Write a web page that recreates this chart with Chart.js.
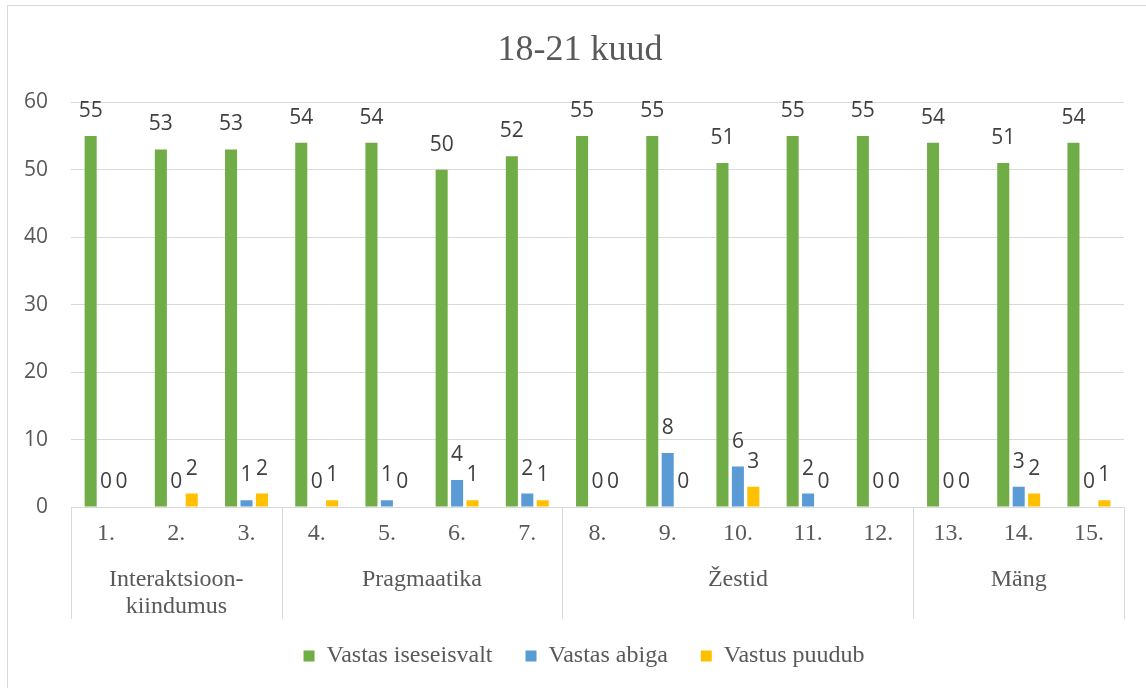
<!DOCTYPE html>
<html>
<head>
<meta charset="utf-8">
<script src="https://cdn.jsdelivr.net/npm/chart.js@4.4.1/dist/chart.umd.min.js"></script>
<style>
  html, body { margin: 0; padding: 0; background: #ffffff; }
  #c { display: block; }
</style>
</head>
<body>
<canvas id="c" width="1146" height="688"></canvas>
<script>
// ---- data ----
const categories = ["1.", "2.", "3.", "4.", "5.", "6.", "7.", "8.", "9.", "10.", "11.", "12.", "13.", "14.", "15."];
const seriesNames = ["Vastas iseseisvalt", "Vastas abiga", "Vastus puudub"];
const vastasIseseisvalt = [55, 53, 53, 54, 54, 50, 52, 55, 55, 51, 55, 55, 54, 51, 54];
const vastasAbiga       = [0, 0, 1, 0, 1, 4, 2, 0, 8, 6, 2, 0, 0, 3, 0];
const vastusPuudub      = [0, 2, 2, 1, 0, 1, 1, 0, 0, 3, 0, 0, 0, 2, 1];
const groupLabels = [["Interaktsioon-", "kiindumus"], ["Pragmaatika"], ["Žestid"], ["Mäng"]];
const groupSizes = [3, 4, 5, 3];
const yTicks = [0, 10, 20, 30, 40, 50, 60];
const titleText = "18-21 kuud";

const colors = ["#70AD47", "#5B9BD5", "#FFC000"];
const GRID = "#D9D9D9";
const TEXT = "#595959";
const SERIF = "'Liberation Serif', 'Times New Roman', serif";
const SANS = "'Open Sans', 'Noto Sans', sans-serif";

const frame = {
  id: 'frame',
  beforeDraw(chart) {
    const ctx = chart.ctx;
    ctx.save();
    ctx.strokeStyle = GRID;
    ctx.lineWidth = 1;
    ctx.strokeRect(7.5, 5.5, 1170, 720);
    ctx.restore();
  }
};

// shift title / legend so they centre on the full (uncropped) chart frame
const boxShift = {
  id: 'boxShift',
  afterLayout(chart) {
    if (chart.titleBlock) { chart.titleBlock.left += 10; chart.titleBlock.right += 10; chart.titleBlock.top += 2; chart.titleBlock.bottom += 2; }
    if (chart.legend) { chart.legend.left += 14; chart.legend.right += 14; chart.legend.top -= 2; chart.legend.bottom -= 2; }
  }
};

const dataLabels = {
  id: 'dataLabels',
  afterDatasetsDraw(chart) {
    const ctx = chart.ctx;
    ctx.save();
    ctx.font = "21px " + SANS;
    ctx.fillStyle = "#404040";
    ctx.textAlign = "center";
    ctx.textBaseline = "alphabetic";
    chart.data.datasets.forEach((ds, di) => {
      const meta = chart.getDatasetMeta(di);
      meta.data.forEach((el, i) => {
        ctx.fillText(String(ds.data[i]), el.x, el.y - 19);
      });
    });
    ctx.restore();
  }
};

const groupAxis = {
  id: 'groupAxis',
  afterDraw(chart) {
    const x = chart.scales.x;
    const ctx = chart.ctx;
    const catW = (x.right - x.left) / categories.length;
    const top = x.top;
    const bottom = 619;
    ctx.save();
    ctx.strokeStyle = GRID;
    ctx.lineWidth = 1;
    let idx = 0;
    const bounds = [x.getPixelForValue(0) - catW / 2];
    groupSizes.forEach(n => { idx += n; bounds.push(x.getPixelForValue(idx - 1) + catW / 2); });
    bounds.forEach(bx => {
      const px = Math.round(bx) + 0.5;
      ctx.beginPath();
      ctx.moveTo(px, top);
      ctx.lineTo(px, bottom);
      ctx.stroke();
    });
    ctx.font = "24px " + SERIF;
    ctx.fillStyle = TEXT;
    ctx.textAlign = "center";
    ctx.textBaseline = "alphabetic";
    for (let g = 0; g < groupLabels.length; g++) {
      const cx = (bounds[g] + bounds[g + 1]) / 2;
      groupLabels[g].forEach((line, li) => {
        ctx.fillText(line, cx, 586 + li * 27);
      });
    }
    ctx.restore();
  }
};

new Chart(document.getElementById('c'), {
  type: 'bar',
  data: {
    labels: categories,
    datasets: [
      { label: seriesNames[0], data: vastasIseseisvalt, backgroundColor: colors[0] },
      { label: seriesNames[1], data: vastasAbiga, backgroundColor: colors[1] },
      { label: seriesNames[2], data: vastusPuudub, backgroundColor: colors[2] }
    ]
  },
  options: {
    responsive: false,
    animation: false,
    devicePixelRatio: 1,
    layout: { padding: { left: 16, right: 22, top: 0, bottom: 8 } },
    datasets: { bar: { categoryPercentage: 0.66, barPercentage: 0.78 } },
    plugins: {
      title: {
        display: true,
        text: titleText,
        color: TEXT,
        font: { family: SERIF, size: 36, weight: 'normal' },
        padding: { top: 27, bottom: 32 }
      },
      legend: {
        position: 'bottom',
        labels: {
          boxWidth: 11,
          boxHeight: 11,
          padding: 33,
          color: TEXT,
          font: { family: SERIF, size: 24 }
        }
      },
      tooltip: { enabled: false }
    },
    scales: {
      x: {
        grid: { display: false },
        border: { display: true, color: GRID, width: 1 },
        ticks: { color: TEXT, font: { family: SERIF, size: 24 }, padding: 4, maxRotation: 0, autoSkip: false },
        afterFit(scale) { scale.height = 106; }
      },
      y: {
        min: 0,
        max: 60,
        afterBuildTicks(scale) { scale.ticks = yTicks.map(v => ({ value: v })); },
        grid: { color: GRID, lineWidth: 1, drawTicks: false },
        border: { display: false },
        ticks: { color: TEXT, font: { family: SANS, size: 21 }, padding: 23 },
        afterFit(scale) { scale.width = 55; }
      }
    }
  },
  plugins: [frame, boxShift, dataLabels, groupAxis]
});
</script>
</body>
</html>
